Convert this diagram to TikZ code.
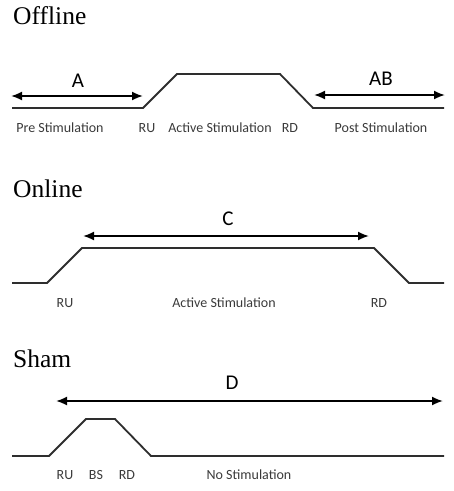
\documentclass[tikz,border=0pt]{standalone}
\usepackage{fontspec}
\setmainfont{Liberation Serif}
\setsansfont{Carlito}
\usetikzlibrary{arrows.meta}
\definecolor{wave}{HTML}{2E2E2E}
\definecolor{ink}{HTML}{3A3A3A}
\tikzset{
  title/.style={font=\rmfamily\fontsize{25.5}{28}\selectfont, anchor=base west, inner sep=0pt},
  phase/.style={font=\sffamily\fontsize{14}{16}\selectfont, text=ink, anchor=base, inner sep=0pt},
  span/.style={font=\sffamily\fontsize{21}{24}\selectfont, anchor=base, inner sep=0pt},
  trace/.style={wave, line width=1.8pt, line join=miter},
  period/.style={{Latex[length=11pt,width=9pt]}-{Latex[length=11pt,width=9pt]}, line width=1.8pt},
}
\begin{document}
\begin{tikzpicture}[x=1pt,y=-1pt]
  \useasboundingbox (0,0) rectangle (454,491);
  % offline
  \node[title] (offT) at (13,24) {Offline};
  \draw[trace] (12,108) -- (143,108) -- (177,74) -- (280,74) -- (313,108) -- (444,108);
  \coordinate (aL) at (11,96);  \coordinate (aR) at (143,96);
  \coordinate (abL) at (314,95); \coordinate (abR) at (445,95);
  \draw[period] (aL) -- (aR);
  \draw[period] (abL) -- (abR);
  \node[span] (lA) at (78,87) {A};
  \node[span] (lAB) at (381,85) {AB};
  \node[phase] (pre) at (60,132) {Pre Stimulation};
  \node[phase] (offRU) at (147,132) {RU};
  \node[phase] (offAct) at (220,132) {Active Stimulation};
  \node[phase] (offRD) at (290,132) {RD};
  \node[phase] (post) at (381,132) {Post Stimulation};
  % online
  \node[title] (onT) at (13,197) {Online};
  \draw[trace] (12,283) -- (47,283) -- (82,248) -- (374,248) -- (409,283) -- (444,283);
  \coordinate (cL) at (83,236); \coordinate (cR) at (369,236);
  \draw[period] (cL) -- (cR);
  \node[span] (lC) at (228,225) {C};
  \node[phase] (onRU) at (65,307) {RU};
  \node[phase] (onAct) at (224,307) {Active Stimulation};
  \node[phase] (onRD) at (379,307) {RD};
  % sham
  \node[title] (shT) at (13,367) {Sham};
  \draw[trace] (12,456) -- (49,456) -- (86,419) -- (115,419) -- (151,456) -- (444,456);
  \coordinate (dL) at (56,401); \coordinate (dR) at (443,401);
  \draw[period] (dL) -- (dR);
  \node[span] (lD) at (232,389) {D};
  \node[phase] (shRU) at (65,479) {RU};
  \node[phase] (shBS) at (96,479) {BS};
  \node[phase] (shRD) at (127,479) {RD};
  \node[phase] (none) at (249,479) {No Stimulation};
\end{tikzpicture}
\end{document}
